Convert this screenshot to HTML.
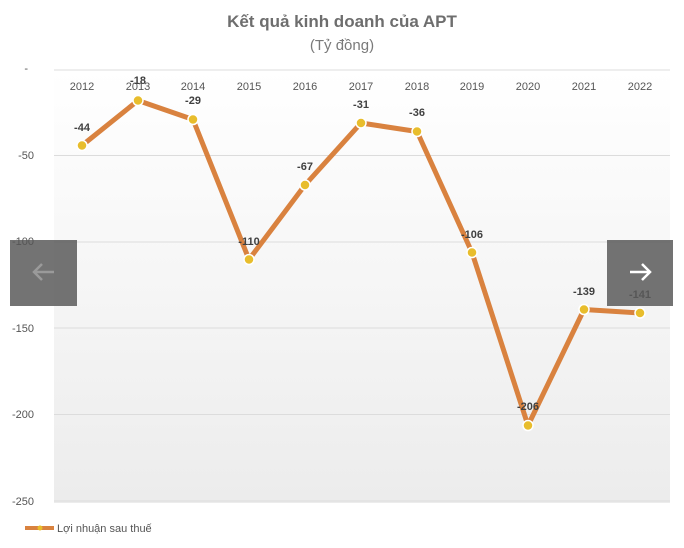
<!DOCTYPE html><html><head><meta charset="utf-8"><style>body{margin:0;background:#fff}svg{display:block}</style></head><body>
<svg width="684" height="548" xmlns="http://www.w3.org/2000/svg" font-family="Liberation Sans, DejaVu Sans, sans-serif">
<defs><linearGradient id="g" x1="0" y1="0" x2="0" y2="1"><stop offset="0" stop-color="#ffffff"/><stop offset="1" stop-color="#ececec"/></linearGradient></defs>
<rect x="54" y="70" width="616" height="433" fill="url(#g)"/>
<text x="342" y="27" text-anchor="middle" font-size="17" font-weight="bold" fill="#6e6e6e">Kết quả kinh doanh của APT</text>
<text x="342" y="50" text-anchor="middle" font-size="15" fill="#7a7a7a">(Tỷ đồng)</text>
<g stroke="#dcdcdc" stroke-width="1">
<line x1="54" y1="70" x2="670" y2="70"/><line x1="54" y1="155.5" x2="670" y2="155.5"/><line x1="54" y1="242" x2="670" y2="242"/><line x1="54" y1="328" x2="670" y2="328"/><line x1="54" y1="414.5" x2="670" y2="414.5"/><line x1="54" y1="501" x2="670" y2="501"/></g>
<g font-size="11" fill="#555" text-anchor="end">
<text x="28" y="72">-</text><text x="34" y="159">-50</text><text x="34" y="505">-250</text><text x="34" y="332">-150</text><text x="34" y="418">-200</text></g>
<g font-size="11" fill="#555" text-anchor="middle">
<text x="82" y="90">2012</text><text x="138" y="90">2013</text><text x="193" y="90">2014</text><text x="249" y="90">2015</text><text x="305" y="90">2016</text><text x="361" y="90">2017</text><text x="417" y="90">2018</text><text x="472" y="90">2019</text><text x="528" y="90">2020</text><text x="584" y="90">2021</text><text x="640" y="90">2022</text></g>
<polyline fill="none" stroke="#d9823f" stroke-width="5" stroke-linejoin="round" points="82,145.5 138,100.5 193,119.5 249,259.5 305,185 361,123 417,131.5 472,252.5 528,425.5 584,309.5 640,313"/>
<g fill="#e8bd2c" stroke="#fff" stroke-width="1.5">
<circle cx="82" cy="145.5" r="5"/><circle cx="138" cy="100.5" r="5"/><circle cx="193" cy="119.5" r="5"/><circle cx="249" cy="259.5" r="5"/><circle cx="305" cy="185" r="5"/><circle cx="361" cy="123" r="5"/><circle cx="417" cy="131.5" r="5"/><circle cx="472" cy="252.5" r="5"/><circle cx="528" cy="425.5" r="5"/><circle cx="584" cy="309.5" r="5"/><circle cx="640" cy="313" r="5"/></g>
<g font-size="11" fill="#404040" text-anchor="middle" font-weight="bold">
<text x="82" y="131">-44</text><text x="138" y="84">-18</text><text x="193" y="104">-29</text><text x="249" y="245">-110</text><text x="305" y="170">-67</text><text x="361" y="108">-31</text><text x="417" y="116">-36</text><text x="472" y="238">-106</text><text x="528" y="410">-206</text><text x="584" y="295">-139</text><text x="640" y="298">-141</text></g>
<rect x="10" y="240" width="67" height="66" fill="#5a5a5a" opacity="0.85"/>
<path d="M54 272 H34 M42 264 L34 272 L42 280" stroke="#9a9a9a" stroke-width="2.5" fill="none"/>
<rect x="607" y="240" width="66" height="66" fill="#5a5a5a" opacity="0.85"/>
<path d="M630 272 H650 M642 264 L650 272 L642 280" stroke="#fff" stroke-width="2.5" fill="none"/>
<text x="34" y="245" font-size="11" fill="#555" text-anchor="end">-100</text>
<line x1="25" y1="528" x2="54" y2="528" stroke="#d9823f" stroke-width="4"/>
<circle cx="40" cy="528" r="2.5" fill="#e8bd2c"/>
<text x="57" y="532" font-size="11" fill="#555">Lợi nhuận sau thuế</text>
</svg></body></html>
